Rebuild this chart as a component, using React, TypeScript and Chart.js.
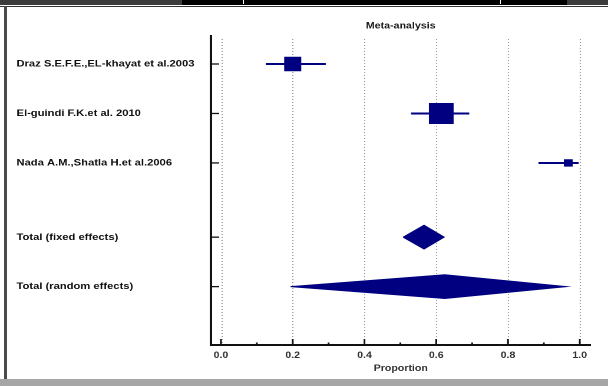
import React, { useEffect, useRef } from "react";
import { Chart, registerables } from "chart.js";

Chart.register(...registerables);

// ---- data ----
const studyNames = [
  "Draz S.E.F.E.,EL-khayat et al.2003",
  "El-guindi F.K.et al. 2010",
  "Nada A.M.,Shatla H.et al.2006",
];
const studyEstimate = [0.2, 0.614, 0.968];
const studyLower = [0.125, 0.53, 0.885];
const studyUpper = [0.292, 0.692, 0.997];
const studyWeight = [29.7, 62.4, 7.9];

const pooledNames = ["Total (fixed effects)", "Total (random effects)"];
const pooledEstimate = [0.566, 0.624];
const pooledLower = [0.508, 0.194];
const pooledUpper = [0.622, 0.963];

const xTickValues = [0, 0.2, 0.4, 0.6, 0.8, 1.0];
const xMinorValues = [0.1, 0.3, 0.5, 0.7, 0.9];

const chartTitle = "Meta-analysis";
const xAxisTitle = "Proportion";

// ---- layout / style ----
const NAVY = "#000080";
const FONT = '"Liberation Sans", Arial, sans-serif';
const CANVAS_W = 516;
const CANVAS_H = 386;
const STRETCH = 608 / CANVAS_W;
const DIAMOND_HALF = 0.24;

const studyRows = studyNames.map((_, i) => i);
const pooledRows = pooledNames.map((_, j) => studyNames.length + 0.5 + j);
const allRows = [...studyRows, ...pooledRows];
const allLabels = [...studyNames, ...pooledNames];

const decorPlugin = {
  id: "decor",
  beforeDatasetsDraw(chart: any) {
    const { ctx, chartArea: a, scales } = chart;
    const x = scales.x;
    ctx.save();
    ctx.strokeStyle = "#9a9a9a";
    ctx.lineWidth = 1;
    ctx.setLineDash([1, 2]);
    for (const v of xTickValues) {
      const px = Math.round(x.getPixelForValue(v)) + 0.5;
      ctx.beginPath();
      ctx.moveTo(px, a.top + 3);
      ctx.lineTo(px, a.bottom - 1);
      ctx.stroke();
    }
    ctx.restore();
  },
  afterDraw(chart: any) {
    const { ctx, chartArea: a, scales } = chart;
    const x = scales.x;
    const y = scales.y;
    ctx.save();
    ctx.strokeStyle = "#111";
    ctx.lineWidth = 1.5;
    for (const v of xTickValues) {
      const px = x.getPixelForValue(v);
      ctx.beginPath();
      ctx.moveTo(px, a.bottom);
      ctx.lineTo(px, a.bottom - 6);
      ctx.stroke();
    }
    for (const v of xMinorValues) {
      const px = x.getPixelForValue(v);
      ctx.beginPath();
      ctx.moveTo(px, a.bottom);
      ctx.lineTo(px, a.bottom - 2.5);
      ctx.stroke();
    }
    ctx.lineWidth = 1.3;
    for (const r of allRows) {
      const py = y.getPixelForValue(r);
      ctx.beginPath();
      ctx.moveTo(a.left, py);
      ctx.lineTo(a.left + 7, py);
      ctx.stroke();
    }
    ctx.fillStyle = "#1a1a1a";
    ctx.font = `bold 9px ${FONT}`;
    ctx.textAlign = "center";
    ctx.textBaseline = "middle";
    ctx.fillText(chartTitle, (a.left + a.right) / 2, 26);
    ctx.restore();
  },
};

export default function App() {
  const ref = useRef<HTMLCanvasElement | null>(null);

  useEffect(() => {
    const canvas = ref.current;
    if (!canvas) return;

    const ciSets = studyNames.map((name, i) => ({
      label: name + " CI",
      data: [
        { x: studyLower[i], y: studyRows[i] },
        { x: studyUpper[i], y: studyRows[i] },
      ],
      showLine: true,
      borderColor: NAVY,
      borderWidth: 2,
      pointRadius: 0,
      fill: false,
    }));

    const diamondSets = pooledNames.map((name, j) => {
      const r = pooledRows[j];
      return {
        label: name,
        data: [
          { x: pooledLower[j], y: r },
          { x: pooledEstimate[j], y: r - DIAMOND_HALF },
          { x: pooledUpper[j], y: r },
          { x: pooledEstimate[j], y: r + DIAMOND_HALF },
          { x: pooledLower[j], y: r },
        ],
        showLine: true,
        borderColor: NAVY,
        backgroundColor: NAVY,
        borderWidth: 1,
        pointRadius: 0,
        fill: "shape",
        tension: 0,
      };
    });

    const squareSet = {
      label: "Studies",
      data: studyNames.map((_, i) => ({ x: studyEstimate[i], y: studyRows[i] })),
      pointStyle: "rect",
      pointRadius: studyWeight.map((w) => (2.66 * Math.sqrt(w)) / Math.SQRT2),
      pointHoverRadius: studyWeight.map((w) => (2.66 * Math.sqrt(w)) / Math.SQRT2),
      backgroundColor: NAVY,
      borderColor: NAVY,
      borderWidth: 0,
      showLine: false,
    };

    const chart = new Chart(canvas, {
      type: "scatter",
      data: { datasets: [squareSet, ...ciSets, ...diamondSets] as any },
      options: {
        animation: false,
        responsive: false,
        devicePixelRatio: 2,
        layout: { padding: { left: 14, right: 8, top: 36, bottom: 0 } },
        plugins: {
          legend: { display: false },
          tooltip: { enabled: false },
          title: { display: false },
        },
        scales: {
          x: {
            type: "linear",
            min: -0.028,
            max: 1.03,
            afterBuildTicks: (s: any) => {
              s.ticks = xTickValues.map((v) => ({ value: v }));
            },
            afterFit: (s: any) => {
              s.height = 41;
            },
            grid: { display: false, drawTicks: false },
            border: { display: true, color: "#111", width: 2 },
            ticks: {
              padding: 5,
              color: "#333",
              font: { family: FONT, size: 9, weight: "bold" },
              callback: (v: any) => Number(v).toFixed(1),
              maxRotation: 0,
              autoSkip: false,
            },
            title: {
              display: true,
              text: xAxisTitle,
              color: "#333",
              font: { family: FONT, size: 9, weight: "bold" },
              padding: { top: 12, bottom: 12 },
            },
          },
          y: {
            type: "linear",
            reverse: true,
            min: -0.566,
            max: 5.68,
            afterBuildTicks: (s: any) => {
              s.ticks = allRows.map((v) => ({ value: v }));
            },
            afterFit: (s: any) => {
              s.width = 165;
            },
            grid: { display: false, drawTicks: false },
            border: { display: true, color: "#111", width: 2 },
            ticks: {
              crossAlign: "far",
              padding: 0,
              color: "#111",
              font: { family: FONT, size: 9.5, weight: "bold" },
              callback: (_v: any, i: number) => allLabels[i],
              autoSkip: false,
            },
          },
        },
      } as any,
      plugins: [decorPlugin],
    });
    return () => chart.destroy();
  }, []);

  const band = (style: React.CSSProperties) => (
    <div style={{ position: "absolute", ...style }} />
  );

  return (
    <div
      style={{
        position: "fixed",
        left: 0,
        top: 0,
        width: 608,
        height: 386,
        background: "#fff",
        overflow: "hidden",
      }}
    >
      <div
        style={{
          position: "absolute",
          left: 0,
          top: 0,
          width: CANVAS_W,
          height: CANVAS_H,
          transform: `scaleX(${STRETCH})`,
          transformOrigin: "0 0",
        }}
      >
        <canvas
          ref={ref}
          width={CANVAS_W}
          height={CANVAS_H}
          style={{ width: CANVAS_W, height: CANVAS_H, display: "block" }}
        />
      </div>
      {band({ left: 0, top: 0, width: 608, height: 5, background: "#3c3c3c" })}
      {band({ left: 182, top: 0, width: 385, height: 5, background: "#000" })}
      {band({ left: 243, top: 0, width: 1, height: 4, background: "#fff" })}
      {band({ left: 500, top: 0, width: 1, height: 4, background: "#fff" })}
      {band({ left: 0, top: 6, width: 608, height: 1, background: "#333" })}
      {band({ left: 4, top: 6, width: 3, height: 374, background: "#4a4a4a" })}
      {band({ left: 0, top: 379, width: 608, height: 7, background: "#a6a6a6" })}
    </div>
  );
}
